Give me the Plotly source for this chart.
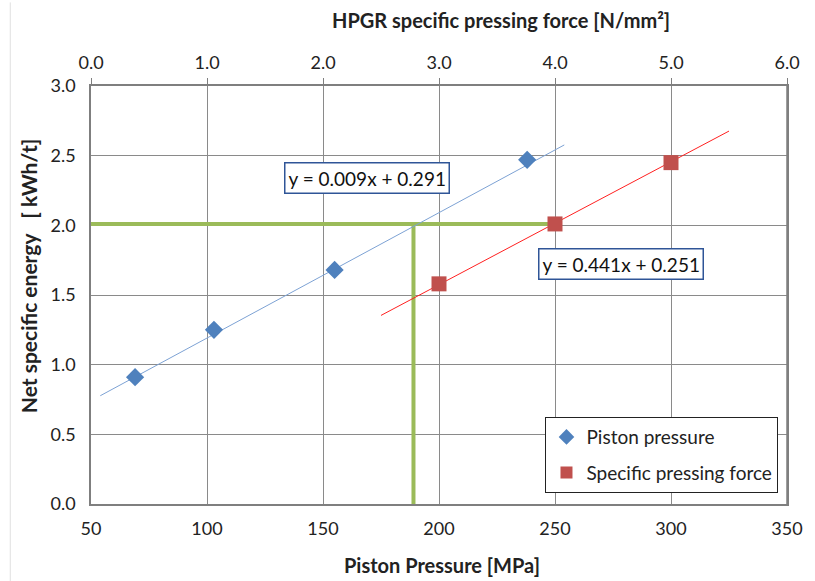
import plotly.graph_objects as go

# Piston press series (bottom axis, MPa)
piston_mpa = [69, 103, 155, 238]
piston_energy = [0.91, 1.25, 1.68, 2.47]

# HPGR series (top axis, N/mm2)
hpgr_force = [3.0, 4.0, 5.0]
hpgr_energy = [1.58, 2.01, 2.45]

# Linear fits shown on the chart
piston_slope, piston_icept = 0.009, 0.291
hpgr_slope, hpgr_icept = 0.441, 0.251
piston_fit_range = [54, 254]
hpgr_fit_range = [2.5, 5.5]

# Reading guide: equal energy level and matching piston pressure
guide_energy = 2.01
guide_pressure = 189
guide_end_pressure = 250

bottom_ticks = [50, 100, 150, 200, 250, 300, 350]
top_ticks = [0, 1, 2, 3, 4, 5, 6]
y_ticks = [0, 0.5, 1.0, 1.5, 2.0, 2.5, 3.0]

BLUE = "#4F81BD"
RED = "#C0504D"
GREEN = "#9BBB59"
GRID = "#8A8A8A"
FONT = "Lato"

fig = go.Figure()

# green guide lines
fig.add_trace(go.Scatter(
    x=[bottom_ticks[0], guide_end_pressure], y=[guide_energy, guide_energy],
    mode="lines", line=dict(color=GREEN, width=4), showlegend=False, hoverinfo="skip"))
fig.add_trace(go.Scatter(
    x=[guide_pressure, guide_pressure], y=[0, guide_energy],
    mode="lines", line=dict(color=GREEN, width=4), showlegend=False, hoverinfo="skip"))

# trend lines
fig.add_trace(go.Scatter(
    x=piston_fit_range,
    y=[piston_slope * v + piston_icept for v in piston_fit_range],
    mode="lines", line=dict(color="#7DA2D4", width=1), showlegend=False, hoverinfo="skip"))
fig.add_trace(go.Scatter(
    x=hpgr_fit_range,
    y=[hpgr_slope * v + hpgr_icept for v in hpgr_fit_range],
    mode="lines", line=dict(color="#FF2020", width=1), showlegend=False,
    hoverinfo="skip", xaxis="x2"))

# data points
fig.add_trace(go.Scatter(
    x=piston_mpa, y=piston_energy, mode="markers", name="Piston pressure",
    legendgroup="piston",
    marker=dict(symbol="diamond", size=14, color=BLUE)))
fig.add_trace(go.Scatter(
    x=hpgr_force, y=hpgr_energy, mode="markers", name="Specific pressing force",
    legendgroup="hpgr",
    marker=dict(symbol="square", size=15, color=RED), xaxis="x2"))

tick_font = dict(family=FONT, size=18, color="#222222")
title_font = dict(family=FONT, size=20, color="#222222")

fig.update_layout(
    width=815, height=581,
    margin=dict(l=91, r=23, t=86, b=77),
    paper_bgcolor="white", plot_bgcolor="white",
    font=dict(family=FONT, color="#222222"),
    xaxis=dict(
        range=[50, 350], tickvals=bottom_ticks, ticktext=[str(v) for v in bottom_ticks],
        showgrid=True, gridcolor=GRID, gridwidth=1, zeroline=False,
        showline=True, linecolor="#7F7F7F", linewidth=1.5, mirror=False,
        ticks="", tickfont=tick_font, ticklabelstandoff=8,
    ),
    xaxis2=dict(
        range=[0, 6], tickvals=top_ticks, ticktext=[f"{v:.1f}" for v in top_ticks],
        overlaying="x", side="top", anchor="y",
        showgrid=False, zeroline=False, showline=True, linecolor="#7F7F7F", linewidth=1.5,
        ticks="outside", ticklen=6, tickcolor="#7F7F7F", tickfont=tick_font,
        ticklabelstandoff=2,
    ),
    yaxis=dict(
        range=[0, 3.0], tickvals=y_ticks, ticktext=[f"{v:.1f}" for v in y_ticks],
        showgrid=True, gridcolor=GRID, gridwidth=1, zeroline=False,
        showline=True, linecolor="#7F7F7F", linewidth=1.5, mirror=True,
        ticks="", tickfont=tick_font, ticklabelstandoff=10,
    ),
    legend=dict(
        x=0.653, y=0.208, xanchor="left", yanchor="top",
        bgcolor="white", bordercolor="#222222", borderwidth=1,
        font=dict(family=FONT, size=19, color="#222222"),
        tracegroupgap=8, itemsizing="constant",
    ),
    showlegend=True,
)

# axis titles
fig.add_annotation(
    x=0.505, y=0, xref="paper", yref="paper", yanchor="middle", yshift=-61,
    text="<b>Piston Pressure [MPa]</b>", showarrow=False, font=title_font)
fig.add_annotation(
    x=0.589, y=1, xref="paper", yref="paper", yanchor="middle", yshift=66,
    text="<b>HPGR specific pressing force [N/mm²]</b>", showarrow=False, font=title_font)
fig.add_annotation(
    x=0, y=0.545, xref="paper", yref="paper", xanchor="center", xshift=-63,
    text="<b>Net specific energy&nbsp;&nbsp;&nbsp;[&nbsp;kWh/t]</b>", textangle=-90,
    showarrow=False, font=dict(family=FONT, size=21, color="#222222"))

# right frame edge
fig.add_shape(type="line", xref="paper", yref="paper", x0=1, x1=1, y0=0, y1=1,
              line=dict(color="#7F7F7F", width=1.5))
# faint outer chart border
fig.add_shape(type="line", xref="paper", yref="paper", x0=-0.116, x1=-0.116, y0=-0.2, y1=1.2,
              line=dict(color="#E0E0E0", width=1))

# fit equations
fig.add_annotation(
    x=169, y=2.34, xref="x", yref="y", text=f"y = {piston_slope}x + {piston_icept}",
    showarrow=False, font=dict(family=FONT, size=19, color="#111111"),
    bgcolor="white", bordercolor="#2F5597", borderwidth=1.5, borderpad=3)
fig.add_annotation(
    x=4.57, y=1.72, xref="x2", yref="y", text=f"y = {hpgr_slope}x + {hpgr_icept}",
    showarrow=False, font=dict(family=FONT, size=19, color="#111111"),
    bgcolor="white", bordercolor="#2F5597", borderwidth=1.5, borderpad=3)

fig.write_html("out.html")
